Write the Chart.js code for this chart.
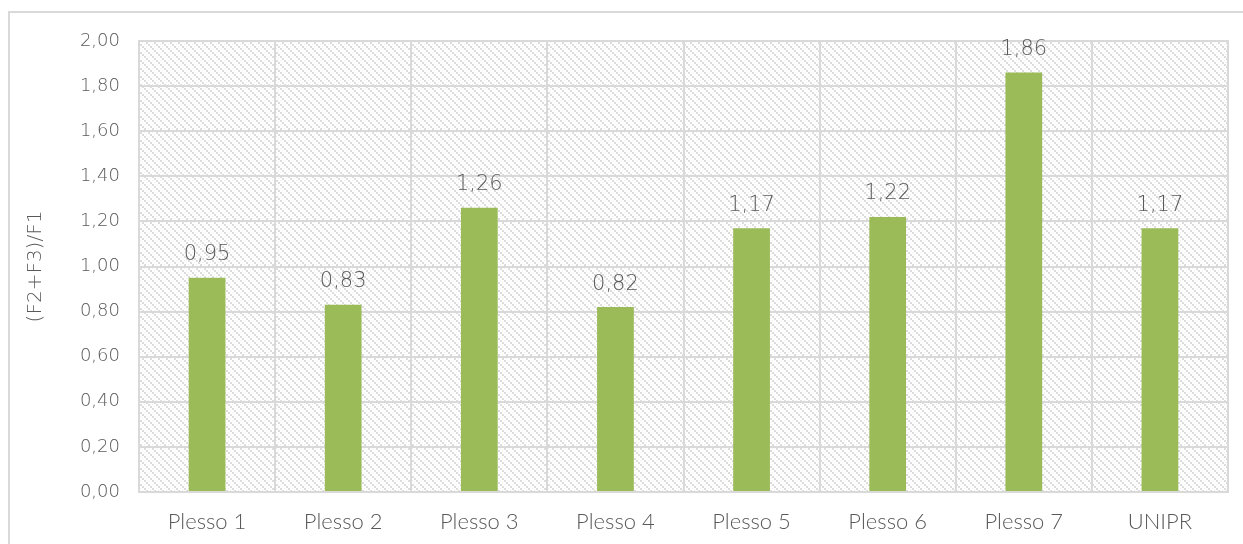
<!DOCTYPE html>
<html>
<head>
<meta charset="utf-8">
<script src="https://cdn.jsdelivr.net/npm/chart.js@4.4.1/dist/chart.umd.min.js"></script>
<style>
  html, body { margin: 0; padding: 0; background: #fff; }
  #wrap { width: 1243px; height: 544px; position: relative; }
</style>
</head>
<body>
<div id="wrap"><canvas id="chart" width="1243" height="544"></canvas></div>
<script>
const categories = ['Plesso 1', 'Plesso 2', 'Plesso 3', 'Plesso 4', 'Plesso 5', 'Plesso 6', 'Plesso 7', 'UNIPR'];
const ratioValues = [0.95, 0.83, 1.26, 0.82, 1.17, 1.22, 1.86, 1.17];
const yTicks = [0, 0.2, 0.4, 0.6, 0.8, 1.0, 1.2, 1.4, 1.6, 1.8, 2.0];

const labelFont = 'Lato, "Open Sans", sans-serif';
const numFont = '"DejaVu Sans", sans-serif';
const textColor = '#595959';
const gridColor = '#d9d9d9';

function fmt(v) {
    return v.toFixed(2).replace('.', ',');
}

// piccolo motivo tratteggiato per lo sfondo dell'area del grafico
function makeHatch() {
    const c = document.createElement('canvas');
    c.width = 8; c.height = 8;
    const g = c.getContext('2d');
    g.fillStyle = '#ffffff';
    g.fillRect(0, 0, 8, 8);
    g.fillStyle = '#dcdcdc';
    for (let i = 0; i < 8; i += 2) {
        g.fillRect(i, i, 2, 2);
    }
    g.fillStyle = '#ececec';
    for (let i = 0; i < 8; i += 2) {
        g.fillRect((i + 4) % 8, i, 1, 1);
    }
    return c;
}

const backgroundPlugin = {
    id: 'sfondo',
    beforeDraw(chart) {
        const ctx = chart.ctx;
        const a = chart.chartArea;
        ctx.save();
        // bordo esterno
        ctx.strokeStyle = gridColor;
        ctx.lineWidth = 2;
        ctx.strokeRect(9, 12, chart.width + 20, chart.height + 20);
        ctx.fillStyle = ctx.createPattern(makeHatch(), 'repeat');
        ctx.fillRect(a.left, a.top, a.right - a.left, a.bottom - a.top);
        ctx.strokeStyle = gridColor;
        ctx.lineWidth = 2;
        ctx.strokeRect(a.left, a.top, a.right - a.left, a.bottom - a.top);
        ctx.restore();
    }
};

const labelPlugin = {
    id: 'etichette',
    afterDatasetsDraw(chart) {
        const ctx = chart.ctx;
        const meta = chart.getDatasetMeta(0);
        ctx.save();
        ctx.font = '200 21px ' + numFont;
        ctx.fillStyle = textColor;
        ctx.textAlign = 'center';
        ctx.textBaseline = 'middle';
        meta.data.forEach((bar, i) => {
            ctx.fillText(fmt(ratioValues[i]), bar.x, bar.y - 23);
        });
        ctx.restore();
    }
};

new Chart(document.getElementById('chart'), {
    type: 'bar',
    data: {
        labels: categories,
        datasets: [{
            data: ratioValues,
            backgroundColor: '#9bbb59',
            borderWidth: 0,
            categoryPercentage: 1,
            barPercentage: 0.27
        }]
    },
    options: {
        responsive: false,
        animation: false,
        layout: { padding: { top: 41, right: 15, left: 0, bottom: 0 } },
        plugins: {
            legend: { display: false },
            tooltip: { enabled: false }
        },
        scales: {
            x: {
                grid: { color: gridColor, lineWidth: 2, drawTicks: false, offset: true },
                border: { display: false },
                ticks: {
                    color: textColor,
                    font: { family: labelFont, size: 22, weight: '300' },
                    padding: 17
                },
                afterFit(axis) { axis.height = 52; }
            },
            y: {
                min: 0,
                max: 2,
                afterBuildTicks(axis) {
                    axis.ticks = yTicks.map(v => ({ value: v }));
                },
                grid: { color: gridColor, lineWidth: 2, drawTicks: false },
                border: { display: false },
                ticks: {
                    color: textColor,
                    font: { family: numFont, size: 18, weight: '200' },
                    padding: 19,
                    callback: v => fmt(v)
                },
                title: {
                    display: true,
                    text: '(F2+F3)/F1',
                    color: textColor,
                    font: { family: numFont, size: 20, weight: '200' },
                    padding: { top: 24, bottom: 0 }
                },
                afterFit(axis) { axis.width = 139; }
            }
        }
    },
    plugins: [backgroundPlugin, labelPlugin]
});
</script>
</body>
</html>
